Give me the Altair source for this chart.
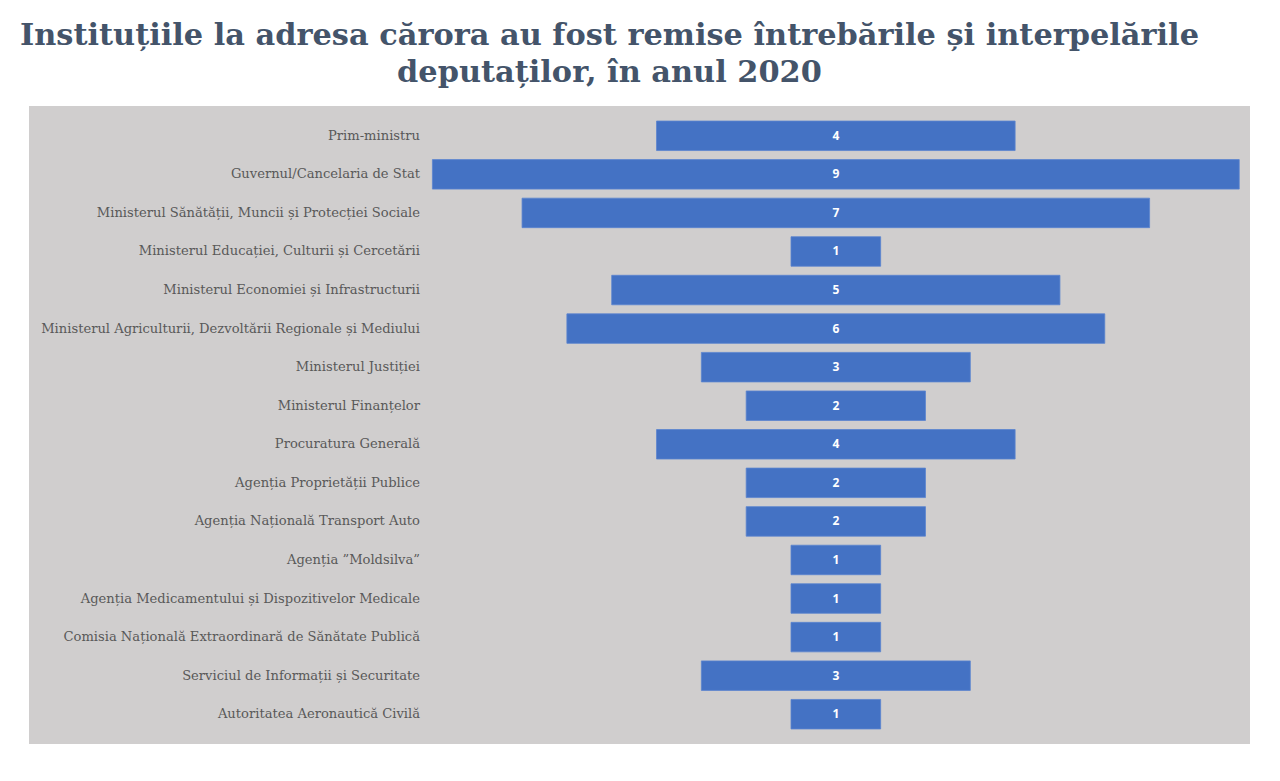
import altair as alt
import pandas as pd

categories = [
    "Prim-ministru",
    "Guvernul/Cancelaria de Stat",
    "Ministerul Sănătății, Muncii și Protecției Sociale",
    "Ministerul Educației, Culturii și Cercetării",
    "Ministerul Economiei și Infrastructurii",
    "Ministerul Agriculturii, Dezvoltării Regionale și Mediului",
    "Ministerul Justiției",
    "Ministerul Finanțelor",
    "Procuratura Generală",
    "Agenția Proprietății Publice",
    "Agenția Națională Transport Auto",
    "Agenția ”Moldsilva”",
    "Agenția Medicamentului și Dispozitivelor Medicale",
    "Comisia Națională Extraordinară de Sănătate Publică",
    "Serviciul de Informații și Securitate",
    "Autoritatea Aeronautică Civilă",
]
values = [4, 9, 7, 1, 5, 6, 3, 2, 4, 2, 2, 1, 1, 1, 3, 1]

df = pd.DataFrame({"inst": categories, "n": values})

GRAY_BG = "#D0CECE"
BAR = "#4472C4"

yenc = alt.Y("inst:N", sort=categories, axis=None,
             scale=alt.Scale(paddingInner=0.235, paddingOuter=0.39))
xscale = alt.Scale(domain=[-9.0, 4.62], nice=False, zero=False)

base = alt.Chart(df).transform_calculate(lo="-datum.n/2", hi="datum.n/2", mid="0")

bars = base.mark_bar(color=BAR, stroke="#5B84CF", strokeWidth=0.8).encode(
    x=alt.X("lo:Q", scale=xscale, axis=None),
    x2="hi:Q",
    y=yenc,
)

nums = base.mark_text(color="white", font="Open Sans", fontWeight="bold",
                      fontSize=12, align="center", baseline="middle").encode(
    x=alt.X("mid:Q", scale=xscale, axis=None),
    y=yenc,
    text="n:Q",
)

labels = alt.Chart(df).mark_text(color="#595959", font="DejaVu Serif",
                                 fontSize=13.1, align="right",
                                 baseline="middle").encode(
    x=alt.value(391),
    y=yenc,
    text="inst:N",
)

chart = alt.layer(bars, nums, labels).properties(
    width=1221,
    height=638,
    title=alt.TitleParams(
        text=["Instituțiile la adresa cărora au fost remise întrebările și interpelările",
              "deputaților, în anul 2020"],
        font="DejaVu Serif", fontSize=30.4, fontWeight="bold", color="#44546A",
        anchor="middle", dx=-30, offset=18, lineHeight=37,
    ),
    autosize=alt.AutoSizeParams(type="none"),
    padding={"left": 21, "top": 98, "right": 0, "bottom": 0},
).configure_view(fill=GRAY_BG, stroke=None)

chart.save("out.html", embed_options={"renderer": "svg", "actions": False})
